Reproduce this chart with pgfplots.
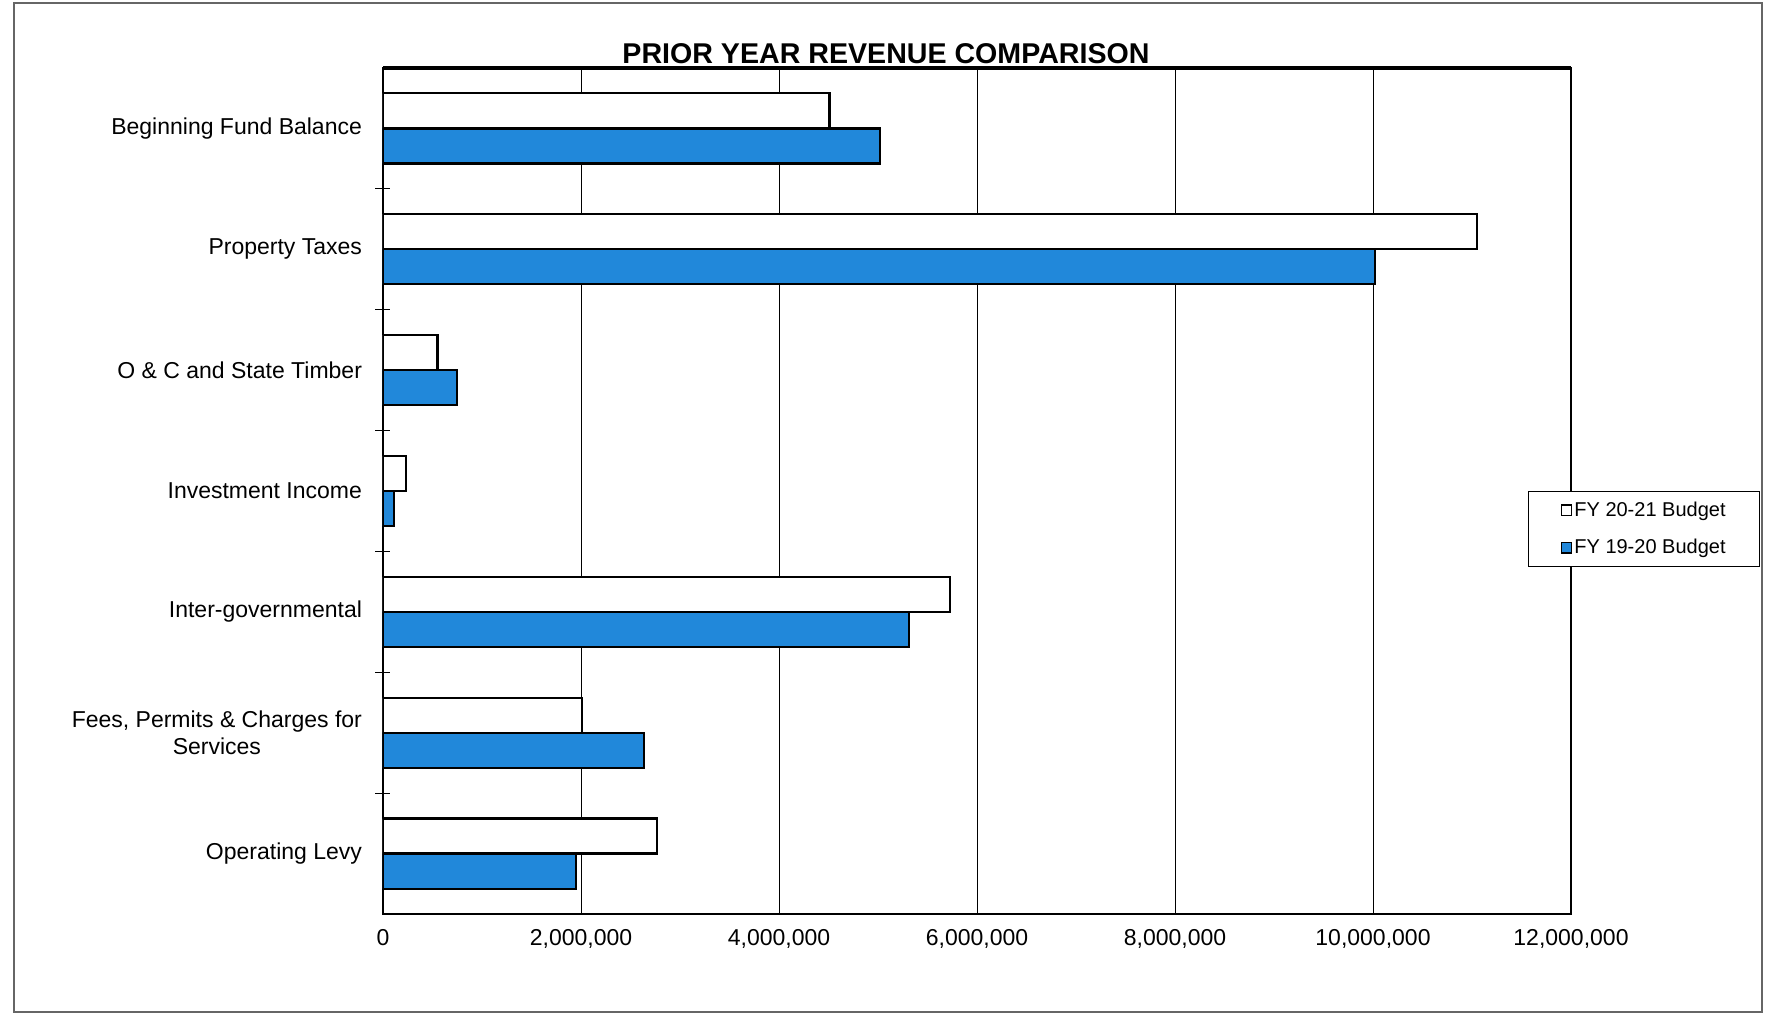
\documentclass[border=0pt]{standalone}
\usepackage{pgfplots}
\pgfplotsset{compat=1.18}
\usepackage{pgfplotstable}
\usepackage{fontspec}
\setmainfont{Liberation Sans}
\definecolor{barblue}{RGB}{33,136,218}
\pgfplotstableread{
y a b
6 4510000 5020000
5 11050000 10020000
4 550000 750000
3 230000 110000
2 5730000 5310000
1 2010000 2640000
0 2770000 1950000
}\data
\begin{document}
\begin{tikzpicture}
\useasboundingbox (0,0) rectangle (892.5pt,508pt);
\fill[white] (0,0) rectangle (892.5pt,508pt);
\draw[black!60, line width=0.6pt] (7pt,2pt) rectangle (881pt,506.5pt);
\begin{axis}[
  at={(191.5pt,51pt)}, anchor=south west,
  scale only axis, width=594pt, height=423pt,
  xbar, bar width=0.29,
  xmin=0, xmax=12000000, ymin=-0.5, ymax=6.5,
  xtick={0,2000000,4000000,6000000,8000000,10000000,12000000},
  scaled x ticks=false,
  /pgf/number format/.cd, fixed, precision=0, 1000 sep={,}, assume math mode=true, /pgfplots/.cd,
  ytick={0,1,2,3,4,5,6},
  yticklabels={Operating Levy, {Fees, Permits \& Charges for\\Services}, Inter-governmental, Investment Income, O \& C and State Timber, Property Taxes, Beginning Fund Balance},
  minor ytick={0.5,1.5,2.5,3.5,4.5,5.5},
  major tick length=0pt, minor tick length=7.5pt, tick align=center,
  minor tick style={black, line width=0.6pt},
  ytick pos=left, xtick pos=bottom,
  xmajorgrids, major grid style={black, line width=0.45pt},
  axis line style={black, line width=0.6pt},
  tick label style={font=\fontsize{11.5}{13.5}\selectfont},
  xticklabel style={yshift=-4pt},
  yticklabel style={align=center, xshift=-7pt},
  legend cell align=left,
  legend image code/.code={\draw[#1, line width=0.7pt] (0pt,-2.6pt) rectangle (5.2pt,2.6pt);},
  legend style={at={(0.9638,0.5)}, anchor=north west, draw=black, line width=0.6pt, fill=white,
    font=\fontsize{10}{12}\selectfont, inner xsep=16pt, inner ysep=4pt, row sep=8pt,
    nodes={inner sep=1pt}, column sep=0pt},
]
\addplot[fill=white, draw=black, line width=1.1pt, bar shift=0.145] table[x=a,y=y]{\data};
\addplot[fill=barblue, draw=black, line width=1.1pt, bar shift=-0.145] table[x=b,y=y]{\data};
\legend{FY 20-21 Budget, FY 19-20 Budget}
\end{axis}
\draw[line width=1.8pt] (191.5pt,474pt) -- (785.5pt,474pt);
\node[anchor=base, font=\fontsize{14.3}{16}\selectfont\bfseries, inner sep=0pt] at (443pt,476pt) {\underline{PRIOR YEAR REVENUE COMPARISON}};
\end{tikzpicture}
\end{document}
